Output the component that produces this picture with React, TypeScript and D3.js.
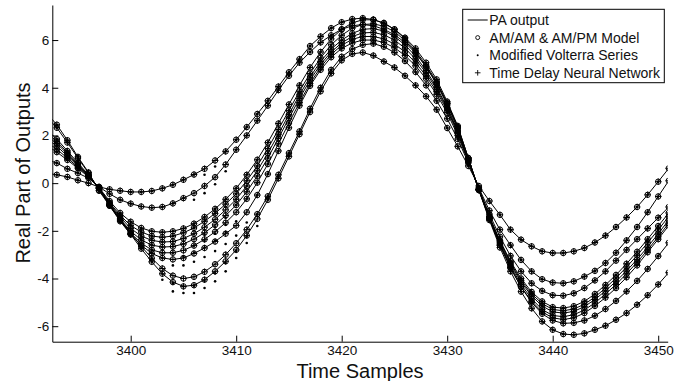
import React, { useEffect, useRef } from 'react';
import * as d3 from 'd3';

const WIDTH = 686;
const HEIGHT = 381;

// every series starts at this time sample, one value per sample
const FIRST_SAMPLE = 3392;

// PA output, one array per record (real part)
const pa1 = [0.42, 0.35, 0.26, 0.12, 0.0, -0.16, -0.26, -0.32, -0.37, -0.37,
  -0.33, -0.22, -0.07, 0.14, 0.36, 0.6, 0.95, 1.33, 1.82, 2.35,
  2.9, 3.45, 4.05, 4.65, 5.2, 5.75, 6.15, 6.5, 6.75, 6.88,
  6.92, 6.86, 6.7, 6.45, 6.1, 5.65, 5.05, 4.35, 3.42, 2.4,
  1.05, -0.3, -1.55, -2.7, -3.7, -4.55, -5.25, -5.8, -6.15, -6.33,
  -6.36, -6.3, -6.15, -5.98, -5.73, -5.45, -5.1, -4.7, -4.25, -3.75];
const pa2 = [1.0, 0.84, 0.6, 0.42, 0.21, -0.16, -0.45, -0.7, -0.86, -0.98,
  -1.03, -1.0, -0.85, -0.63, -0.42, -0.12, 0.25, 0.78, 1.4, 2.0,
  2.62, 3.25, 3.9, 4.5, 5.05, 5.5, 5.9, 6.2, 6.45, 6.6,
  6.65, 6.6, 6.45, 6.22, 5.9, 5.45, 4.88, 4.2, 3.35, 2.35,
  1.05, -0.27, -1.48, -2.6, -3.55, -4.35, -5.0, -5.48, -5.76, -5.88,
  -5.86, -5.76, -5.56, -5.28, -4.94, -4.54, -4.1, -3.6, -3.06, -2.5];
const pa3 = [1.58, 1.3, 0.97, 0.62, 0.26, -0.19, -0.75, -1.25, -1.62, -1.88,
  -2.02, -2.06, -2.02, -1.9, -1.7, -1.42, -1.08, -0.68, -0.22, 0.35,
  0.98, 1.7, 2.5, 3.3, 4.1, 4.85, 5.5, 6.05, 6.45, 6.72,
  6.85, 6.85, 6.72, 6.45, 6.05, 5.55, 4.95, 4.25, 3.35, 2.35,
  1.05, -0.28, -1.5, -2.6, -3.55, -4.35, -4.95, -5.4, -5.65, -5.72,
  -5.65, -5.45, -5.15, -4.8, -4.4, -3.95, -3.45, -2.9, -2.35, -1.78];
const pa4 = [1.72, 1.42, 1.05, 0.67, 0.28, -0.2, -0.82, -1.35, -1.78, -2.05,
  -2.22, -2.27, -2.22, -2.08, -1.88, -1.6, -1.27, -0.88, -0.45, 0.1,
  0.72, 1.45, 2.25, 3.05, 3.85, 4.6, 5.25, 5.8, 6.2, 6.5,
  6.65, 6.68, 6.58, 6.35, 5.98, 5.48, 4.88, 4.15, 3.28, 2.28,
  1.0, -0.28, -1.48, -2.55, -3.48, -4.25, -4.85, -5.3, -5.55, -5.6,
  -5.52, -5.32, -5.02, -4.65, -4.25, -3.8, -3.32, -2.8, -2.25, -1.68];
const pa5 = [1.88, 1.55, 1.14, 0.72, 0.3, -0.2, -0.86, -1.42, -1.9, -2.22,
  -2.4, -2.47, -2.45, -2.32, -2.12, -1.85, -1.52, -1.12, -0.68, -0.12,
  0.52, 1.25, 2.05, 2.88, 3.7, 4.45, 5.1, 5.62, 6.0, 6.28,
  6.45, 6.48, 6.38, 6.15, 5.8, 5.32, 4.72, 4.02, 3.18, 2.2,
  0.98, -0.27, -1.45, -2.5, -3.4, -4.15, -4.73, -5.15, -5.4, -5.45,
  -5.38, -5.18, -4.88, -4.52, -4.12, -3.68, -3.2, -2.68, -2.12, -1.55];
const pa6 = [2.0, 1.66, 1.22, 0.76, 0.31, -0.21, -0.9, -1.5, -2.02, -2.38,
  -2.6, -2.68, -2.66, -2.55, -2.35, -2.08, -1.75, -1.36, -0.92, -0.36,
  0.3, 1.05, 1.88, 2.72, 3.55, 4.32, 4.98, 5.5, 5.88, 6.15,
  6.3, 6.32, 6.22, 6.0, 5.66, 5.2, 4.62, 3.94, 3.12, 2.15,
  0.96, -0.26, -1.42, -2.45, -3.34, -4.08, -4.65, -5.05, -5.3, -5.35,
  -5.28, -5.08, -4.78, -4.4, -3.98, -3.52, -3.03, -2.5, -1.96, -1.4];
const pa7 = [2.12, 1.75, 1.28, 0.8, 0.33, -0.22, -0.92, -1.55, -2.1, -2.52,
  -2.8, -2.92, -2.92, -2.82, -2.62, -2.36, -2.04, -1.66, -1.22, -0.66,
  0.02, 0.8, 1.65, 2.52, 3.38, 4.18, 4.86, 5.4, 5.78, 6.03,
  6.15, 6.15, 6.05, 5.83, 5.5, 5.05, 4.5, 3.84, 3.05, 2.1,
  0.94, -0.26, -1.4, -2.4, -3.28, -4.0, -4.56, -4.96, -5.2, -5.24,
  -5.16, -4.96, -4.65, -4.27, -3.85, -3.38, -2.88, -2.35, -1.8, -1.25];
const pa8 = [2.25, 1.85, 1.35, 0.85, 0.35, -0.22, -0.95, -1.6, -2.15, -2.6,
  -2.95, -3.14, -3.2, -3.14, -2.95, -2.72, -2.45, -2.12, -1.78, -1.22,
  -0.5, 0.38, 1.35, 2.32, 3.25, 4.08, 4.75, 5.28, 5.65, 5.88,
  6.0, 6.0, 5.9, 5.68, 5.35, 4.92, 4.38, 3.72, 2.95, 2.0,
  0.9, -0.25, -1.3, -2.25, -3.05, -3.7, -4.2, -4.52, -4.7, -4.72,
  -4.62, -4.4, -4.08, -3.7, -3.25, -2.8, -2.35, -1.9, -1.45, -1.0];
const pa9 = [2.8, 2.32, 1.7, 1.05, 0.42, -0.3, -0.9, -1.5, -2.1, -2.65,
  -3.15, -3.58, -3.88, -4.0, -3.93, -3.72, -3.4, -3.0, -2.52, -1.95,
  -1.3, -0.55, 0.35, 1.26, 2.17, 3.12, 4.0, 4.75, 5.3, 5.62,
  5.8, 5.85, 5.72, 5.48, 5.12, 4.66, 4.1, 3.45, 2.7, 1.85,
  0.85, -0.2, -1.15, -1.95, -2.6, -3.22, -3.7, -4.03, -4.17, -4.2,
  -4.12, -3.92, -3.68, -3.35, -2.92, -2.4, -1.84, -1.22, -0.56, 0.1];
const pa10 = [2.95, 2.45, 1.8, 1.1, 0.45, -0.32, -0.95, -1.55, -2.15, -2.75,
  -3.3, -3.8, -4.15, -4.33, -4.28, -4.05, -3.7, -3.28, -2.8, -2.2,
  -1.5, -0.7, 0.2, 1.12, 2.05, 2.98, 3.85, 4.6, 5.15, 5.42,
  5.48, 5.35, 5.1, 4.85, 4.5, 4.1, 3.64, 3.08, 2.31, 1.54,
  0.72, -0.12, -0.75, -1.33, -1.95, -2.37, -2.65, -2.86, -2.93, -2.93,
  -2.86, -2.72, -2.49, -2.2, -1.84, -1.44, -1.0, -0.49, 0.06, 0.62];

const paOutputs = [pa1, pa2, pa3, pa4, pa5, pa6, pa7, pa8, pa9, pa10];

// AM/AM and TDNN predictions sit on the PA output at this scale;
// the Volterra dots drop below it in the first trough: [record, sample, value]
const volterraMisses: [number, number, number][] = [
  [9, 3403, -4.05], [9, 3404, -4.54], [9, 3405, -4.61], [9, 3406, -4.61], [9, 3407, -4.4],
  [9, 3408, -4.12], [9, 3409, -3.7], [9, 3410, -3.14], [9, 3411, -2.51], [9, 3412, -1.8],
  [8, 3403, -3.8], [8, 3404, -4.2], [8, 3405, -4.33], [8, 3406, -4.3], [8, 3407, -4.1],
  [8, 3408, -3.78], [8, 3409, -3.35], [8, 3410, -2.85], [8, 3411, -2.25],
  [7, 3404, -3.45], [7, 3405, -3.45], [7, 3406, -3.3], [7, 3407, -3.1], [7, 3408, -2.85],
  [7, 3409, -2.55], [7, 3410, -2.2], [7, 3411, -1.65],
  [6, 3405, -3.08], [6, 3406, -2.92], [6, 3407, -2.7], [6, 3408, -2.42], [6, 3409, -2.05], [6, 3410, -1.6],
  [5, 3406, -2.62], [5, 3407, -2.42], [5, 3408, -2.12], [5, 3409, -1.75],
  [4, 3407, -2.15], [4, 3408, -1.85], [4, 3409, -1.45],
  [1, 3406, -0.7], [1, 3407, -0.42], [1, 3408, -0.05], [1, 3409, 0.5],
  [0, 3407, 0.35], [0, 3408, 0.7],
];

const xTicks = [3400, 3410, 3420, 3430, 3440, 3450];
const yTicks = [-6, -4, -2, 0, 2, 4, 6];
const legendLabels = ['PA output', 'AM/AM & AM/PM Model', 'Modified Volterra Series', 'Time Delay Neural Network'];

const FONT = '"Liberation Sans", Arial, Helvetica, sans-serif';

const App: React.FC = () => {
  const svgRef = useRef<SVGSVGElement>(null);

  useEffect(() => {
    if (!svgRef.current) return;
    const svg = d3.select(svgRef.current);
    svg.selectAll('*').remove();

    const plot = { left: 52.3, right: 667.7, top: 5, bottom: 341.7 };

    const x = d3.scaleLinear().domain([3392.57, 3450.9]).range([plot.left, plot.right]);
    const y = d3.scaleLinear().domain([-6.65, 7.47]).range([plot.bottom, plot.top]);

    svg.append('defs').append('clipPath')
      .attr('id', 'plot-clip')
      .append('rect')
      .attr('x', plot.left)
      .attr('y', plot.top)
      .attr('width', plot.right - plot.left)
      .attr('height', plot.bottom - plot.top);

    const g = svg.append('g').attr('clip-path', 'url(#plot-clip)');

    const line = d3.line<number>()
      .x((d, i) => x(FIRST_SAMPLE + i))
      .y(d => y(d));

    // PA output lines
    paOutputs.forEach(series => {
      g.append('path')
        .datum(series)
        .attr('fill', 'none')
        .attr('stroke', '#000')
        .attr('stroke-width', 1)
        .attr('d', line);
    });

    const points = paOutputs.flatMap((series, k) =>
      series.map((v, i) => ({ k, s: FIRST_SAMPLE + i, v })));

    // AM/AM & AM/PM circles
    g.selectAll('.amam')
      .data(points)
      .enter()
      .append('circle')
      .attr('cx', d => x(d.s))
      .attr('cy', d => y(d.v))
      .attr('r', 2.7)
      .attr('fill', 'none')
      .attr('stroke', '#000')
      .attr('stroke-width', 1);

    // Volterra dots
    const misses = new Map(volterraMisses.map(([k, s, v]) => [`${k}-${s}`, v]));
    g.selectAll('.volterra')
      .data(points)
      .enter()
      .append('circle')
      .attr('cx', d => x(d.s))
      .attr('cy', d => y(misses.get(`${d.k}-${d.s}`) ?? d.v))
      .attr('r', 1.3)
      .attr('fill', '#000');

    // TDNN plus signs
    g.selectAll('.tdnn')
      .data(points)
      .enter()
      .append('path')
      .attr('d', d => {
        const cx = x(d.s);
        const cy = y(d.v);
        return `M${cx - 3.2},${cy}H${cx + 3.2}M${cx},${cy - 3.2}V${cy + 3.2}`;
      })
      .attr('stroke', '#000')
      .attr('stroke-width', 1);

    // Axes (MATLAB style: ticks inside, no box)
    const xAxis = svg.append('g')
      .attr('transform', `translate(0,${plot.bottom})`)
      .call(d3.axisBottom(x).tickValues(xTicks).tickSizeInner(-6).tickSizeOuter(0).tickPadding(4)
        .tickFormat(d3.format('d')));
    const yAxis = svg.append('g')
      .attr('transform', `translate(${plot.left},0)`)
      .call(d3.axisLeft(y).tickValues(yTicks).tickSizeInner(-6).tickSizeOuter(0).tickPadding(3)
        .tickFormat(d => String(d)));

    [xAxis, yAxis].forEach(a => {
      a.attr('font-family', FONT).attr('font-size', 13.5);
      a.selectAll('path, line').attr('stroke', '#000');
      a.selectAll('text').attr('fill', '#111');
    });

    // Axis labels
    svg.append('text')
      .attr('x', (plot.left + plot.right) / 2)
      .attr('y', 377.5)
      .attr('text-anchor', 'middle')
      .attr('font-family', FONT)
      .attr('font-size', 20)
      .attr('fill', '#111')
      .text('Time Samples');

    svg.append('text')
      .attr('transform', 'translate(29.5,173) rotate(-90)')
      .attr('text-anchor', 'middle')
      .attr('font-family', FONT)
      .attr('font-size', 20)
      .attr('fill', '#111')
      .text('Real Part of Outputs');

    // Legend
    const legend = svg.append('g');
    legend.append('rect')
      .attr('x', 462.7)
      .attr('y', 9.3)
      .attr('width', 201.6)
      .attr('height', 73.4)
      .attr('fill', '#fff')
      .attr('stroke', '#000')
      .attr('stroke-width', 1);

    legendLabels.forEach((label, i) => {
      const cy = 20 + i * 17.6;
      const row = legend.append('g');
      if (i === 0) {
        row.append('line')
          .attr('x1', 467.7).attr('x2', 487.7)
          .attr('y1', cy).attr('y2', cy)
          .attr('stroke', '#000');
      } else if (i === 1) {
        row.append('circle')
          .attr('cx', 477.7).attr('cy', cy).attr('r', 2)
          .attr('fill', 'none').attr('stroke', '#000').attr('stroke-width', 0.9);
      } else if (i === 2) {
        row.append('circle')
          .attr('cx', 477.7).attr('cy', cy).attr('r', 1)
          .attr('fill', '#000');
      } else {
        row.append('path')
          .attr('d', `M${474.9},${cy}H${480.5}M${477.7},${cy - 2.8}V${cy + 2.8}`)
          .attr('stroke', '#000').attr('stroke-width', 0.9);
      }
      row.append('text')
        .attr('x', 489.3)
        .attr('y', cy + 5)
        .attr('font-family', FONT)
        .attr('font-size', 14)
        .attr('fill', '#111')
        .text(label);
    });
  }, []);

  return (
    <svg
      ref={svgRef}
      width={WIDTH}
      height={HEIGHT}
      style={{ position: 'absolute', left: 0, top: 0, background: '#fff' }}
    />
  );
};

export default App;
